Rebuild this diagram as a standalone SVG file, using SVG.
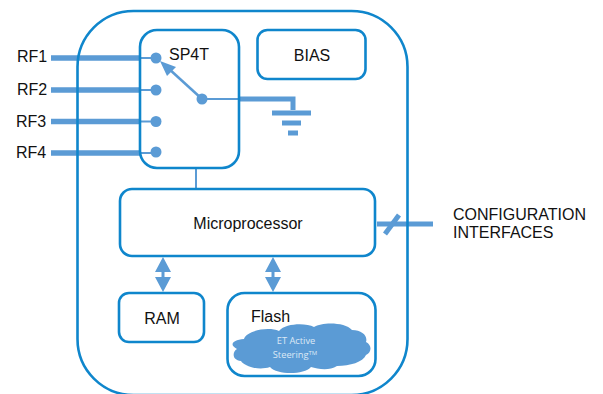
<svg xmlns="http://www.w3.org/2000/svg" width="603" height="394" viewBox="0 0 603 394">
<style>
.box{fill:none;stroke:#0f86cc;stroke-width:2.6}
.t{font-family:"Liberation Sans",Arial,sans-serif;font-size:16px;fill:#111}
.c{font-family:"Open Sans","Noto Sans",sans-serif;font-size:9.300px;fill:#dce9f6;text-anchor:middle}
.w{stroke:#5b9bd5;fill:none}
.d{fill:#5b9bd5}
.a{fill:#5b9bd5;stroke:none}
</style>
<rect width="603" height="394" fill="#fff"/>
<g id="connectors">
<path class="w" stroke-width="5.500" d="M51 58H141M51 90H141M51 121.500H141M51 153H141"/>
<path class="w" stroke-width="2" d="M141 58H156M141 90H156M141 121.500H156M141 153H156"/>
<path class="w" stroke-width="2.500" d="M202 99L168 68"/>
<path class="a" d="M160 61L176 67L167 76Z"/>
<path class="w" stroke-width="2" d="M202 99H240"/>
<path class="w" stroke-width="5" d="M238 99H293V110"/>
<path class="w" stroke-width="5" d="M272 113H311M282 123H301M288 133H298"/>
<path class="w" stroke-width="2" d="M196 167V189"/>
<path class="a" d="M163 257L171 272H155ZM163 292L155 277H171Z"/>
<path class="w" stroke-width="3" d="M163 271V278"/>
<path class="a" d="M273 257L281 272H265ZM273 292L265 277H281Z"/>
<path class="w" stroke-width="3" d="M273 271V278"/>
<path class="w" stroke-width="5" d="M377 224H433"/>
<path class="w" stroke-width="5" d="M385 234L399 215"/>
</g>
<g id="chip"><rect class="box" x="77.500" y="11" width="330" height="384" rx="56"/></g>
<g id="sp4t"><rect class="box" x="140" y="30" width="99" height="138" rx="17"/><text class="t" x="169" y="60">SP4T</text>
<circle class="d" cx="156" cy="58" r="5.500"/><circle class="d" cx="156" cy="90" r="5.500"/><circle class="d" cx="156" cy="121.500" r="5.500"/><circle class="d" cx="156" cy="152" r="5.500"/><circle class="d" cx="202" cy="99" r="5.500"/></g>
<g id="bias"><rect class="box" x="257.500" y="30" width="108" height="49" rx="10"/><text class="t" x="312" y="61" text-anchor="middle">BIAS</text></g>
<g id="rf-labels"><text class="t" x="17" y="62">RF1</text><text class="t" x="17" y="95">RF2</text><text class="t" x="16" y="127">RF3</text><text class="t" x="16" y="158">RF4</text></g>
<g id="microprocessor"><rect class="box" x="120" y="189" width="255" height="67" rx="12"/><text class="t" x="248" y="229" text-anchor="middle">Microprocessor</text></g>
<g id="ram"><rect class="box" x="119" y="293" width="85" height="49" rx="10"/><text class="t" x="162" y="324" text-anchor="middle">RAM</text></g>
<g id="flash"><rect class="box" x="227.500" y="293" width="148" height="83" rx="17"/><text class="t" x="251" y="322">Flash</text>
<path class="a" d="M244 339C246 331 268 326 279 331C286 323 306 323 314 327C322 322 345 322 352 330C362 330 368 336 366 342C372 345 372 352 366 355C363 362 350 366 337 366C329 371 318 369 311 367C304 375 277 375 270 367C258 371 244 366 241 361C232 360 232 352 237 349C229 345 232 340 244 339Z"/>
<text class="c" x="296" y="344">ET Active</text>
<text class="c" x="295" y="358">Steering<tspan font-size="6" dy="-3">TM</tspan></text></g>
<g id="config"><text class="t" x="453" y="220">CONFIGURATION</text><text class="t" x="453" y="238">INTERFACES</text></g>
</svg>
